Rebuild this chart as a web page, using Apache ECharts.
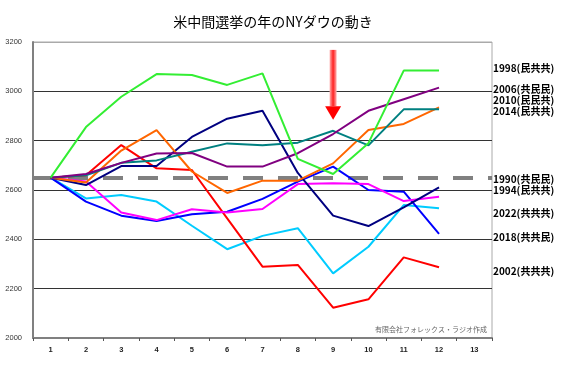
<!DOCTYPE html>
<html><head><meta charset="utf-8">
<script src="https://cdn.jsdelivr.net/npm/echarts@6/dist/echarts.min.js"></script>
<style>html,body{margin:0;padding:0;background:#fff}#c{width:567px;height:366px}</style>
</head><body><div id="c"></div>
<script>
const categories = ['1','2','3','4','5','6','7','8','9','10','11','12','13'];
const s1998 = [2650,2855,2978,3070,3066,3026,3073,2726,2665,2790,3084,3084];
const s2006 = [2650,2665,2710,2748,2750,2695,2695,2749,2827,2921,2968,3015];
const s2010 = [2650,2630,2760,2843,2675,2588,2638,2638,2708,2843,2868,2935];
const s2014 = [2650,2660,2710,2720,2755,2789,2781,2792,2840,2781,2927,2927];
const s1994 = [2650,2620,2697,2697,2815,2889,2921,2669,2496,2454,2530,2611];
const s1990 = [2650,2566,2580,2553,2455,2360,2414,2445,2262,2370,2539,2526];
const s2022 = [2650,2634,2509,2478,2522,2509,2523,2624,2627,2624,2555,2573];
const s2018 = [2650,2553,2496,2474,2502,2512,2564,2634,2695,2600,2593,2422];
const s2002 = [2650,2660,2782,2688,2681,2485,2289,2296,2123,2157,2327,2287];
const baseLevel = 2650;
const labelTexts = ['1998(民共共)','2006(共民民)','2010(民民共)','2014(民共共)','1990(共民民)','1994(民共共)','2022(共共共)','2018(共共民)','2002(共共共)'];
const labelValues = [3090,3005,2961,2916,2640,2595,2503,2406,2268];
const arrowCategory = 8, arrowTop = 3168, arrowHeadStart = 2940, arrowTip = 2885;

const chart = echarts.init(document.getElementById('c'));
const mk = (name, data, color) => ({name, type:'line', data, symbol:'none', lineStyle:{color, width:2}, itemStyle:{color}, z:3});
const series = [
  mk('1990', s1990, '#00CCFF'),
  mk('2002', s2002, '#FF0000'),
  mk('2018', s2018, '#0000FF'),
  mk('2022', s2022, '#FF00FF'),
  mk('1994', s1994, '#000080'),
  mk('2010', s2010, '#FF6600'),
  mk('2014', s2014, '#008080'),
  mk('2006', s2006, '#800080'),
  mk('1998', s1998, '#33EE33')
];
series[0].markLine = {silent:true, symbol:'none', label:{show:false}, z:2,
  lineStyle:{color:'#808080', width:4, type:[20,15]}, data:[{yAxis:baseLevel}]};
chart.setOption({
  animation:false,
  title:{text:'米中間選挙の年のNYダウの動き', left:268, top:10, textAlign:'center',
    textStyle:{fontFamily:'Noto Sans CJK JP', fontSize:14, fontWeight:'normal', color:'#000'}},
  grid:{left:33, right:75, top:42, bottom:28, show:true, borderColor:'#aaa', borderWidth:1},
  xAxis:{type:'category', data:categories, boundaryGap:true,
    axisLine:{lineStyle:{color:'#808080', width:2}},
    axisTick:{show:true, length:3, lineStyle:{color:'#555'}},
    axisLabel:{fontSize:7.5, color:'#222', margin:8, fontFamily:'Liberation Sans', fontWeight:'bold'}},
  yAxis:{type:'value', min:2000, max:3200, interval:200,
    axisLine:{show:true, lineStyle:{color:'#808080', width:2}},
    axisTick:{show:false},
    axisLabel:{fontSize:7.5, color:'#333', margin:11, fontFamily:'Liberation Sans', formatter:v=>String(v)},
    splitLine:{lineStyle:{color:['#808080','#333','#333','#333','#333','#333','#aaa'], width:1}}},
  series
});
const g = [];
labelTexts.forEach((t,i)=>{
  const y = chart.convertToPixel({yAxisIndex:0}, labelValues[i]);
  g.push({type:'text', left:493, top:y-6, style:{text:t, fontSize:10, fontWeight:'bold', fontFamily:'Noto Sans CJK JP', fill:'#000'}});
});
const ax = chart.convertToPixel({xAxisIndex:0}, categories[arrowCategory]);
const yTop = chart.convertToPixel({yAxisIndex:0}, arrowTop);
const yHead = chart.convertToPixel({yAxisIndex:0}, arrowHeadStart);
const yTip = chart.convertToPixel({yAxisIndex:0}, arrowTip);
g.push({type:'rect', shape:{x:ax-3.5, y:yTop, width:7, height:yHead-yTop}, z:10,
  style:{fill:new echarts.graphic.LinearGradient(0,0,1,0,[{offset:0,color:'#ffb0b0'},{offset:0.5,color:'#ff2020'},{offset:1,color:'#ffb0b0'}])}});
g.push({type:'polygon', shape:{points:[[ax-8,yHead],[ax+8,yHead],[ax,yTip]]}, z:10, style:{fill:'#FF0000'}});
g.push({type:'text', left:375, top:326, style:{text:'有限会社フォレックス・ラジオ作成', fontSize:7, fontFamily:'Noto Sans CJK JP', fill:'#666'}});
chart.setOption({graphic:g});
</script></body></html>
